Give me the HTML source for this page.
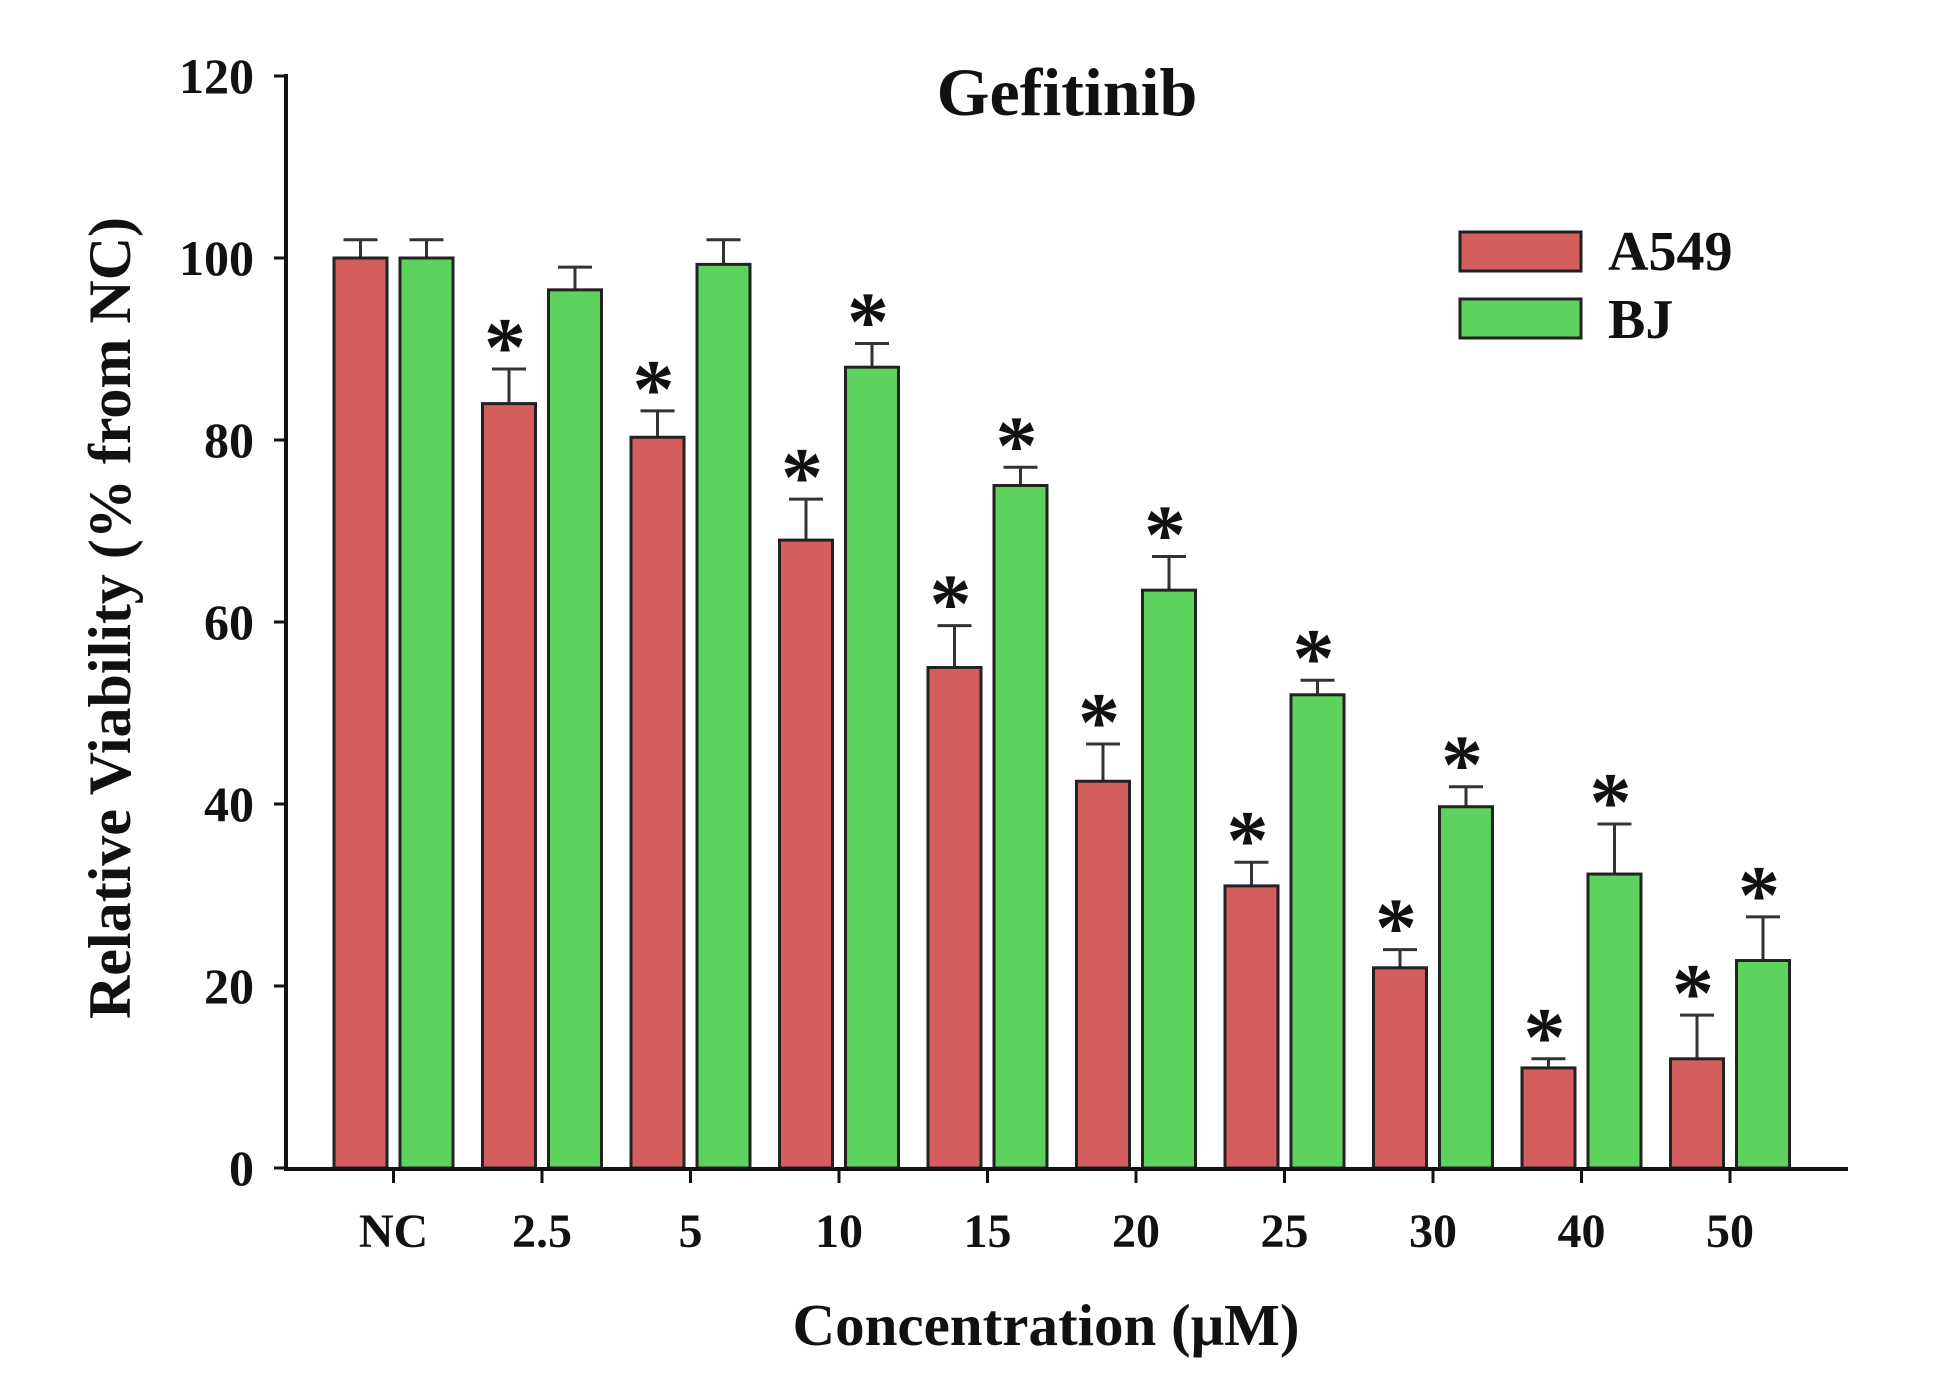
<!DOCTYPE html>
<html><head><meta charset="utf-8"><style>
html,body{margin:0;padding:0;background:#fff;}
svg text{font-family:"Liberation Serif",serif;font-weight:bold;fill:#111;}
</style></head><body>
<svg id="chart" width="1939" height="1384" viewBox="0 0 1939 1384" xmlns="http://www.w3.org/2000/svg">
<text x="1067" y="115" font-size="68" text-anchor="middle">Gefitinib</text>
<text transform="translate(130,618) rotate(-90)" font-size="60" text-anchor="middle">Relative Viability (% from NC)</text>
<text x="1046" y="1345" font-size="59" text-anchor="middle">Concentration (μM)</text>
<g id="marks"></g>
<line x1="286" y1="74" x2="286" y2="1170" stroke="#111" stroke-width="4"/>
<line x1="284" y1="1169" x2="1848" y2="1169" stroke="#111" stroke-width="4"/>
<rect x="1460" y="232" width="121" height="39" fill="#d45d5d" stroke="#222" stroke-width="3"/>
<text x="1608" y="270" font-size="56">A549</text>
<rect x="1460" y="299" width="121" height="39" fill="#5dd35d" stroke="#222" stroke-width="3"/>
<text x="1608" y="338" font-size="56">BJ</text>
</svg>
<script>
const categories = ["NC","2.5","5","10","15","20","25","30","40","50"];
const a549 = [100,84,80.3,69,55,42.5,31,22,11,12];
const a549Err = [2,3.8,2.9,4.5,4.6,4.1,2.6,2,1,4.8];
const bj = [100,96.5,99.3,88,75,63.5,52,39.7,32.3,22.8];
const bjErr = [2,2.5,2.7,2.6,2,3.7,1.6,2.2,5.5,4.8];
const a549Star = [false,true,true,true,true,true,true,true,true,true];
const bjStar = [false,false,false,true,true,true,true,true,true,true];
const yTicks = [0,20,40,60,80,100,120];

const ns = "http://www.w3.org/2000/svg";
const y0 = 1168, yPer = 9.1;
function yScale(v){return y0 - v*yPer;}
function xScale(i){return 393.5 + 148.5*i;}
const svg = document.getElementById('chart');
const g = document.getElementById('marks');
function mk(tag, attrs, parent){const e=document.createElementNS(ns,tag);for(const k in attrs)e.setAttribute(k,attrs[k]);(parent||g).appendChild(e);return e;}

yTicks.forEach(t=>{
  const y=yScale(t);
  const l=mk('line',{x1:274,x2:286,y1:y,y2:y,stroke:'#111','stroke-width':3},svg);
  
  
  const tx=mk('text',{x:254,y:y+17,'font-size':50,'text-anchor':'end'},svg);
  tx.textContent=t;
  
  
});

const bw=53, off=33;
categories.forEach((c,i)=>{
  const cx=xScale(i);
  const tk=mk('line',{x1:cx,x2:cx,y1:1169,y2:1183,stroke:'#111','stroke-width':3},svg);
  
  
  const tl=mk('text',{x:cx,y:1247,'font-size':48,'text-anchor':'middle'},svg);
  tl.textContent=c;
  
  
  [[a549,a549Err,a549Star,'#d45d5d',-off,'a549'],[bj,bjErr,bjStar,'#5dd35d',off,'bj']].forEach(s=>{
    const v=s[0][i], e=s[1][i], bx=cx+s[4];
    const yt=yScale(v+e);
    const el=mk('line',{x1:bx,x2:bx,y1:yScale(v),y2:yt,stroke:'#333','stroke-width':3});
    
    
    const cap=mk('line',{x1:bx-17,x2:bx+17,y1:yt,y2:yt,stroke:'#333','stroke-width':3});
    
    
    const r=mk('rect',{x:bx-bw/2,y:yScale(v),width:bw,height:y0-yScale(v),fill:s[3],stroke:'#222','stroke-width':3});
    
    
    if(s[2][i]){
      const st=mk('text',{x:bx-4,y:yt+6,'font-size':84,'text-anchor':'middle'});
      st.textContent='*';
      
      
    }
  });
});
</script>
</body></html>
